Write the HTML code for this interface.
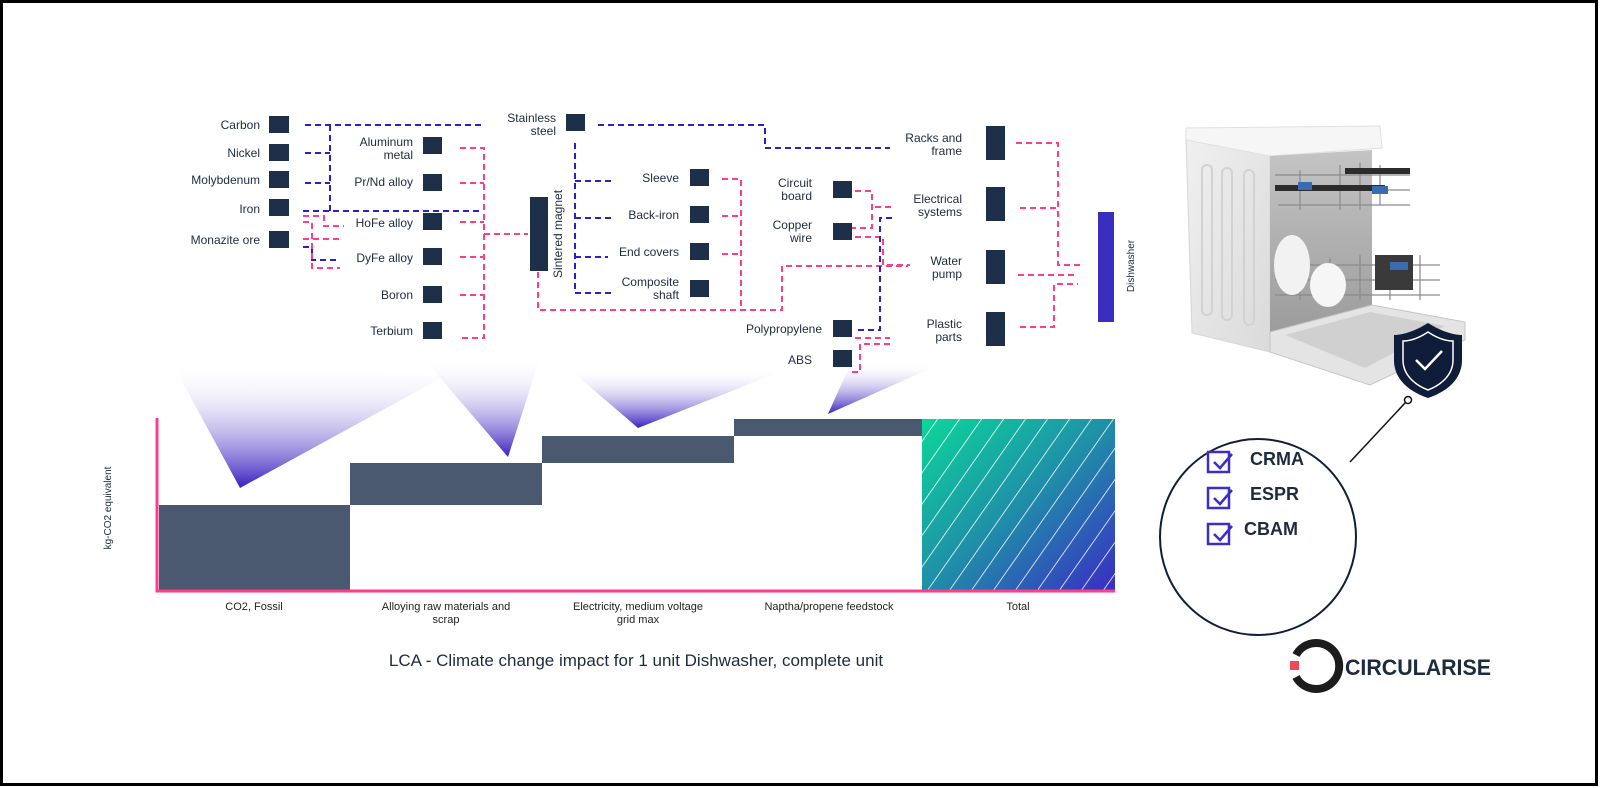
<!DOCTYPE html>
<html><head><meta charset="utf-8"><style>
html,body{margin:0;padding:0;background:#fff}
svg{display:block}
text{font-family:"Liberation Sans",sans-serif;fill:#1e2a3e}
.l{font-size:12px;text-anchor:end}
.c{font-size:11px;text-anchor:middle;fill:#222}
.b{stroke:#2a1fc9;stroke-width:2;fill:none;stroke-dasharray:6 4}
.p{stroke:#ff3d8a;stroke-width:2;fill:none;stroke-dasharray:6 4}
.n{fill:#1e2f4a}
</style></head><body>
<svg width="1600" height="788" viewBox="0 0 1600 788" xmlns="http://www.w3.org/2000/svg">
<defs>
<linearGradient id="tg" x1="0" y1="1" x2="0" y2="0">
<stop offset="0" stop-color="#3a1fbf"/><stop offset="1" stop-color="#ffffff" stop-opacity="0"/></linearGradient>
<linearGradient id="tot" x1="0" y1="0" x2="1" y2="1">
<stop offset="0" stop-color="#0bd69a"/><stop offset="0.5" stop-color="#1f8fa8"/><stop offset="1" stop-color="#3a2cc4"/></linearGradient>
<pattern id="hatch" width="18" height="18" patternUnits="userSpaceOnUse" patternTransform="rotate(35)">
<line x1="0" y1="0" x2="0" y2="18" stroke="#fff" stroke-width="1.5"/></pattern>
<linearGradient id="dw" x1="0" y1="0" x2="1" y2="1"><stop offset="0" stop-color="#f0f0f0"/><stop offset="1" stop-color="#dadada"/></linearGradient>
<linearGradient id="inn" x1="0" y1="0" x2="0" y2="1"><stop offset="0" stop-color="#c4c4c4"/><stop offset="1" stop-color="#9c9c9c"/></linearGradient>
</defs>
<rect x="1.5" y="1.5" width="1595" height="783" fill="#fff" stroke="#000" stroke-width="3"/>

<polygon points="172,363 445,376 240,488" fill="url(#tg)"/>
<polygon points="425,360 540,358 508,457" fill="url(#tg)"/>
<polygon points="568,368 790,368 638,428" fill="url(#tg)"/>
<polygon points="850,365 945,362 828,414" fill="url(#tg)"/>

<text class="l" x="260" y="129">Carbon</text>
<text class="l" x="260" y="157">Nickel</text>
<text class="l" x="260" y="184">Molybdenum</text>
<text class="l" x="260" y="213">Iron</text>
<text class="l" x="260" y="244">Monazite ore</text>
<rect class="n" x="269" y="116" width="20" height="17"/>
<rect class="n" x="269" y="144" width="20" height="17"/>
<rect class="n" x="269" y="171" width="20" height="17"/>
<rect class="n" x="269" y="199" width="20" height="17"/>
<rect class="n" x="269" y="231" width="20" height="17"/>

<text class="l" x="413" y="146">Aluminum</text><text class="l" x="413" y="159">metal</text>
<text class="l" x="413" y="186">Pr/Nd alloy</text>
<text class="l" x="413" y="227">HoFe alloy</text>
<text class="l" x="413" y="262">DyFe alloy</text>
<text class="l" x="413" y="299">Boron</text>
<text class="l" x="413" y="335">Terbium</text>
<rect class="n" x="423" y="137" width="19" height="17"/>
<rect class="n" x="423" y="174" width="19" height="17"/>
<rect class="n" x="423" y="213" width="19" height="17"/>
<rect class="n" x="423" y="248" width="19" height="17"/>
<rect class="n" x="423" y="286" width="19" height="17"/>
<rect class="n" x="423" y="322" width="19" height="17"/>

<path class="b" d="M305 125H483M330 125V211M305 153H330M305 183H330M303 211H483"/>
<path class="b" d="M303 247H312V260H340"/>
<path class="p" d="M303 216H324V226H344M303 222H312V268H340M303 239H340"/>
<path class="p" d="M460 148H484V338H460M460 183H484M460 222H484M460 257H484M460 295H484M484 234H528"/>

<rect class="n" x="530" y="197" width="18" height="74"/>
<text x="0" y="0" font-size="12" text-anchor="middle" transform="translate(562,234) rotate(-90)">Sintered magnet</text>
<text class="l" x="556" y="122">Stainless</text><text class="l" x="556" y="135">steel</text>
<rect class="n" x="566" y="114" width="19" height="17"/>
<path class="b" d="M598 125H765V148H890M575 143V293H613M575 181H613M575 218H613M575 257H608"/>

<text class="l" x="679" y="182">Sleeve</text>
<text class="l" x="679" y="219">Back-iron</text>
<text class="l" x="679" y="256">End covers</text>
<text class="l" x="679" y="286">Composite</text><text class="l" x="679" y="299">shaft</text>
<rect class="n" x="690" y="169" width="19" height="17"/>
<rect class="n" x="690" y="206" width="19" height="17"/>
<rect class="n" x="690" y="243" width="19" height="17"/>
<rect class="n" x="690" y="280" width="19" height="17"/>
<path class="p" d="M722 179H741V310M722 216H741M722 254H741M538 272V310H782V266H908"/>

<text class="l" x="812" y="187">Circuit</text><text class="l" x="812" y="200">board</text>
<text class="l" x="812" y="229">Copper</text><text class="l" x="812" y="242">wire</text>
<text class="l" x="822" y="333">Polypropylene</text>
<text class="l" x="812" y="364">ABS</text>
<rect class="n" x="833" y="181" width="19" height="17"/>
<rect class="n" x="833" y="223" width="19" height="17"/>
<rect class="n" x="833" y="320" width="19" height="17"/>
<rect class="n" x="833" y="350" width="19" height="17"/>
<path class="p" d="M855 191H872V228H852M875 207H893M855 237H883V265H910M855 338H890M890 344H860V372H850"/>
<path class="b" d="M892 218H880V330H855"/>

<text class="l" x="962" y="142">Racks and</text><text class="l" x="962" y="155">frame</text>
<text class="l" x="962" y="203">Electrical</text><text class="l" x="962" y="216">systems</text>
<text class="l" x="962" y="265">Water</text><text class="l" x="962" y="278">pump</text>
<text class="l" x="962" y="328">Plastic</text><text class="l" x="962" y="341">parts</text>
<rect class="n" x="986" y="126" width="19" height="34"/>
<rect class="n" x="986" y="187" width="19" height="34"/>
<rect class="n" x="986" y="250" width="19" height="34"/>
<rect class="n" x="986" y="312" width="19" height="34"/>
<path class="p" d="M1016 143H1058V265H1082M1020 208H1058M1018 275H1078M1020 327H1054V284H1078"/>

<rect x="1098" y="212" width="16" height="110" fill="#3b2dbf"/>
<text x="0" y="0" font-size="10" text-anchor="middle" transform="translate(1134,266) rotate(-90)">Dishwasher</text>

<rect x="159" y="505" width="191" height="85" fill="#4a5870"/>
<rect x="350" y="463" width="192" height="42" fill="#4a5870"/>
<rect x="542" y="436" width="192" height="27" fill="#4a5870"/>
<rect x="734" y="419" width="188" height="17" fill="#4a5870"/>
<rect x="922" y="419" width="193" height="171" fill="url(#tot)"/>
<rect x="922" y="419" width="193" height="171" fill="url(#hatch)"/>
<path d="M157 418V591H1115" stroke="#ff3d8a" stroke-width="3" fill="none"/>
<text x="0" y="0" font-size="10" text-anchor="middle" transform="translate(111,508) rotate(-90)">kg-CO2 equivalent</text>
<text class="c" x="254" y="610">CO2, Fossil</text>
<text class="c" x="446" y="610">Alloying raw materials and</text><text class="c" x="446" y="623">scrap</text>
<text class="c" x="638" y="610">Electricity, medium voltage</text><text class="c" x="638" y="623">grid max</text>
<text class="c" x="829" y="610">Naptha/propene feedstock</text>
<text class="c" x="1018" y="610">Total</text>
<text x="636" y="666" font-size="17" text-anchor="middle" fill="#111">LCA - Climate change impact for 1 unit Dishwasher, complete unit</text>

<!-- dishwasher -->
<polygon points="1186,138 1270,150 1270,352 1192,333" fill="url(#dw)" stroke="#d6d6d6"/>
<g stroke="#d2d2d2" stroke-width="2" fill="none">
<rect x="1202" y="165" width="10" height="150" rx="5"/><rect x="1222" y="168" width="10" height="152" rx="5"/><rect x="1244" y="170" width="10" height="155" rx="5"/></g>
<polygon points="1186,128 1380,126 1382,148 1270,156 1186,140" fill="#f6f6f6" stroke="#e0e0e0"/>
<polygon points="1270,156 1372,150 1372,318 1270,332" fill="url(#inn)"/>
<g stroke="#8a8a8a" stroke-width="1.2" fill="none">
<path d="M1275 175H1410M1275 190H1410M1278 205H1410M1340 165V210M1360 163V210M1380 165V205M1300 170V210"/>
<path d="M1275 265H1440M1275 280H1440M1275 295H1440M1300 260V300M1330 258V300M1360 255V300M1390 255V300M1420 255V300"/>
</g>
<rect x="1275" y="185" width="110" height="6" fill="#2c2c2c"/>
<rect x="1345" y="168" width="65" height="6" fill="#2c2c2c"/>
<ellipse cx="1292" cy="265" rx="18" ry="30" fill="#f2f2f2"/>
<ellipse cx="1328" cy="285" rx="18" ry="22" fill="#f6f6f6"/>
<rect x="1375" y="255" width="38" height="35" fill="#3a3a3a"/>
<rect x="1390" y="262" width="18" height="8" fill="#3a6ab0"/>
<rect x="1298" y="182" width="14" height="8" fill="#3a6ab0"/><rect x="1372" y="186" width="16" height="8" fill="#3a6ab0"/>
<polygon points="1270,332 1372,305 1465,322 1465,340 1370,385 1270,352" fill="#e4e4e4" stroke="#c6c6c6"/>
<polygon points="1285,335 1370,312 1445,326 1365,368" fill="#d0d0d0"/>

<path d="M1428 323 C1412 333 1400 335 1394 335 V360 C1394 380 1410 392 1428 398 C1446 392 1462 380 1462 360 V335 C1456 335 1444 333 1428 323Z" fill="#0f1d3a"/>
<path d="M1428 332 C1416 340 1408 341 1403 341 V360 C1403 375 1415 385 1428 390 C1441 385 1453 375 1453 360 V341 C1448 341 1440 340 1428 332Z" fill="none" stroke="#fff" stroke-width="1.5"/>
<path d="M1416 360 L1425 369 L1442 351" stroke="#fff" stroke-width="2.5" fill="none"/>

<line x1="1350" y1="462" x2="1406" y2="402" stroke="#111" stroke-width="1.5"/>
<circle cx="1408" cy="400" r="3.5" fill="#fff" stroke="#111" stroke-width="1.5"/>
<circle cx="1258" cy="537" r="98" fill="#fff" stroke="#0f1d3a" stroke-width="2"/>
<g fill="none" stroke="#3b2dc9" stroke-width="2.5">
<rect x="1208" y="452" width="21" height="20"/><path d="M1214 462L1220 468L1232 454"/>
<rect x="1208" y="488" width="21" height="20"/><path d="M1214 498L1220 504L1232 490"/>
<rect x="1208" y="524" width="21" height="20"/><path d="M1214 534L1220 540L1232 526"/>
</g>
<text x="1250" y="465" font-size="18" font-weight="bold" fill="#1a1f33">CRMA</text>
<text x="1250" y="500" font-size="18" font-weight="bold" fill="#1a1f33">ESPR</text>
<text x="1244" y="535" font-size="18" font-weight="bold" fill="#1a1f33">CBAM</text>

<path d="M1296 655 A23 23 0 1 1 1296 677" stroke="#1c1c1c" stroke-width="8" fill="none"/>
<rect x="1290" y="661" width="9" height="9" fill="#ef4a55"/>
<text x="1345" y="675" font-size="22" font-weight="bold" fill="#1c1c1c" textLength="146" lengthAdjust="spacingAndGlyphs">CIRCULARISE</text>
</svg>
</body></html>
